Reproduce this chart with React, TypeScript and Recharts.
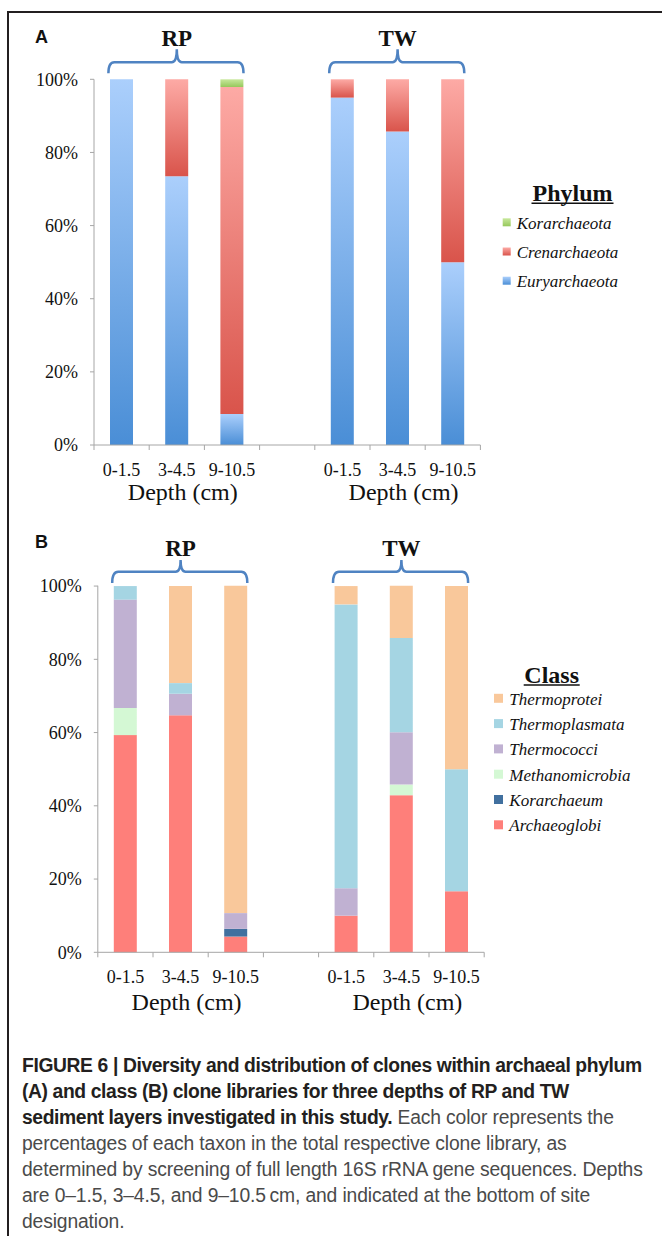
import { BarChart, Bar, XAxis, YAxis, Legend } from 'recharts'

const SERIF = '"Liberation Serif", "Times New Roman", Times, serif'
const SANS = '"Liberation Sans", Arial, Helvetica, sans-serif'
const AXIS = '#a6a6a6'
const BRACE = '#4f83c2'

// x categories: three depths per site, with an empty gap between sites
const depthLabels = ['0-1.5', '3-4.5', '9-10.5', '', '0-1.5', '3-4.5', '9-10.5']
const sites = ['RP', 'TW']
const percentTicks = [0, 20, 40, 60, 80, 100]

// A: phylum (% of clones)
const euryarchaeota = [100, 73.5, 8.5, null, 95, 85.7, 50]
const crenarchaeota = [0, 26.5, 89.4, null, 5, 14.3, 50]
const korarchaeota = [0, 0, 2.1, null, 0, 0, 0]

// B: class (% of clones)
const archaeoglobi = [59.3, 64.7, 4.3, null, 10, 42.9, 16.7]
const korarchaeum = [0, 0, 2.1, null, 0, 0, 0]
const methanomicrobia = [7.4, 0, 0, null, 0, 2.9, 0]
const thermococci = [29.6, 5.9, 4.3, null, 7.5, 14.3, 0]
const thermoplasmata = [3.7, 2.9, 0, null, 77.5, 25.7, 33.3]
const thermoprotei = [0, 26.5, 89.4, null, 5, 14.3, 50]

type Series = { name: string; values: (number | null)[]; top: string; bottom: string }

// stacking order bottom -> top
const phylumSeries: Series[] = [
  { name: 'Euryarchaeota', values: euryarchaeota, top: '#abcffc', bottom: '#4a8ed6' },
  { name: 'Crenarchaeota', values: crenarchaeota, top: '#fdaaa5', bottom: '#d9544b' },
  { name: 'Korarchaeota', values: korarchaeota, top: '#c8e89c', bottom: '#96c85c' },
]

const classSeries: Series[] = [
  { name: 'Archaeoglobi', values: archaeoglobi, top: '#fe7f7a', bottom: '#fe7f7a' },
  { name: 'Korarchaeum', values: korarchaeum, top: '#41709f', bottom: '#41709f' },
  { name: 'Methanomicrobia', values: methanomicrobia, top: '#d4f8d4', bottom: '#d4f8d4' },
  { name: 'Thermococci', values: thermococci, top: '#c0b1d2', bottom: '#c0b1d2' },
  { name: 'Thermoplasmata', values: thermoplasmata, top: '#a5d5e3', bottom: '#a5d5e3' },
  { name: 'Thermoprotei', values: thermoprotei, top: '#f9c89b', bottom: '#f9c89b' },
]

const W = 662
const H = 520
const PLOT_W = 386.4
const BAR = 23
const YAXIS_W = 60
const XAXIS_H = 30

function rowsOf(series: Series[]) {
  return depthLabels.map((_, i) => {
    const row: Record<string, number | null> = { idx: i }
    series.forEach((s) => {
      row[s.name] = s.values[i]
    })
    return row
  })
}

function DepthTick(props: any) {
  const { x, y, payload, band, dy, count } = props
  const i = payload.value as number
  return (
    <g>
      <line x1={x - band / 2} x2={x - band / 2} y1={y} y2={y + 5} stroke={AXIS} />
      {i === count - 1 && <line x1={x + band / 2} x2={x + band / 2} y1={y} y2={y + 5} stroke={AXIS} />}
      <text x={x} y={y + dy} textAnchor="middle" dominantBaseline="central" fontFamily={SERIF} fontSize={18} fill="#111">
        {depthLabels[i]}
      </text>
    </g>
  )
}

function bracePath(x1: number, x2: number, peak: number, yH: number, yEnd: number, yTop: number) {
  return [
    `M ${x1} ${yEnd}`,
    `Q ${x1} ${yH} ${x1 + 6} ${yH}`,
    `L ${peak - 5} ${yH}`,
    `Q ${peak} ${yH} ${peak} ${yTop}`,
    `Q ${peak} ${yH} ${peak + 5} ${yH}`,
    `L ${x2 - 6} ${yH}`,
    `Q ${x2} ${yH} ${x2} ${yEnd}`,
  ].join(' ')
}

interface PanelProps {
  letter: string
  series: Series[]
  top: number
  plotLeft: number
  plotTop: number
  plotBottom: number
  tickDy: number
  depthDy: number
  braceY: number
  braceEnd: number
  bracePeak: number
  siteY: number
  letterY: number
  title: string
  legendLeft: number
  legendTop: number
  titleX: number
  titleY: number
  titleW: number
  swatchX: number
  swatch: number
  itemY: number
  itemStep: number
  textX: number
}

function Panel(p: PanelProps) {
  const band = PLOT_W / depthLabels.length
  const center = (i: number) => p.plotLeft + band * (i + 0.5)
  const gid = (s: Series) => `grad-${p.letter}-${s.name}`
  const legendItems = [...p.series].reverse()

  return (
    <div style={{ position: 'absolute', left: 0, top: p.top, width: W, height: H }}>
      <BarChart
        width={W}
        height={H}
        data={rowsOf(p.series)}
        barSize={BAR}
        margin={{
          top: p.plotTop,
          bottom: H - p.plotBottom - XAXIS_H,
          left: p.plotLeft - YAXIS_W,
          right: W - p.plotLeft - PLOT_W,
        }}
      >
        <defs>
          {p.series.map((s) => (
            <linearGradient key={s.name} id={gid(s)} x1="0" y1="0" x2="0" y2="1">
              <stop offset="0" stopColor={s.top} />
              <stop offset="1" stopColor={s.bottom} />
            </linearGradient>
          ))}
        </defs>
        <XAxis
          dataKey="idx"
          type="category"
          height={XAXIS_H}
          interval={0}
          tickLine={false}
          tickSize={0}
          tickMargin={0}
          axisLine={{ stroke: AXIS }}
          tick={<DepthTick band={band} dy={p.tickDy} count={depthLabels.length} />}
        />
        <YAxis
          type="number"
          domain={[0, 100]}
          ticks={percentTicks}
          width={YAXIS_W}
          tickFormatter={(v: number) => `${v}%`}
          tickSize={4}
          tickMargin={12}
          axisLine={{ stroke: AXIS }}
          tickLine={{ stroke: AXIS }}
          tick={{ fontFamily: SERIF, fontSize: 18, fill: '#111' }}
        />
        {p.series.map((s) => (
          <Bar key={s.name} dataKey={s.name} name={s.name} stackId="a" fill={`url(#${gid(s)})`} isAnimationActive={false} />
        ))}
        <Legend
          layout="vertical"
          align="center"
          verticalAlign="middle"
          wrapperStyle={{ left: p.legendLeft, top: p.legendTop, width: 170 }}
          content={() => (
            <svg width={170} height={190} style={{ display: 'block', overflow: 'visible' }}>
              <text x={p.titleX} y={p.titleY} textAnchor="middle" dominantBaseline="central" fontFamily={SERIF} fontWeight="bold" fontSize={24} fill="#111">
                {p.title}
              </text>
              <line x1={p.titleX - p.titleW / 2} x2={p.titleX + p.titleW / 2} y1={p.titleY + 10} y2={p.titleY + 10} stroke="#111" strokeWidth={1.5} />
              {legendItems.map((s, i) => (
                <g key={s.name}>
                  <rect x={p.swatchX} y={p.itemY + i * p.itemStep - p.swatch / 2 - 1} width={p.swatch} height={p.swatch} fill={`url(#${gid(s)})`} />
                  <text x={p.textX} y={p.itemY + i * p.itemStep} dominantBaseline="central" fontFamily={SERIF} fontStyle="italic" fontSize={17} fill="#111">
                    {s.name}
                  </text>
                </g>
              ))}
            </svg>
          )}
        />
      </BarChart>

      <svg width={W} height={H} style={{ position: 'absolute', left: 0, top: 0, pointerEvents: 'none' }}>
        <text x={35} y={p.letterY} dominantBaseline="central" fontFamily={SANS} fontWeight="bold" fontSize={18} fill="#111">
          {p.letter}
        </text>
        {sites.map((site, g) => {
          const first = g * 4
          const x1 = center(first) - BAR / 2 - 1.7
          const x2 = center(first + 2) + BAR / 2
          const mid = center(first + 1)
          return (
            <g key={site}>
              <text x={mid} y={p.siteY} textAnchor="middle" dominantBaseline="central" fontFamily={SERIF} fontWeight="bold" fontSize={23} fill="#111">
                {site}
              </text>
              <path d={bracePath(x1, x2, mid, p.braceY, p.braceEnd, p.bracePeak)} fill="none" stroke={BRACE} strokeWidth={2.5} />
              <text x={mid + 6} y={p.plotBottom + p.depthDy} textAnchor="middle" dominantBaseline="central" fontFamily={SERIF} fontSize={24} fill="#111">
                Depth (cm)
              </text>
            </g>
          )
        })}
      </svg>
    </div>
  )
}

const captionLines: { bold: string; rest: string }[] = [
  { bold: 'FIGURE 6 | Diversity and distribution of clones within archaeal phylum', rest: '' },
  { bold: '(A) and class (B) clone libraries for three depths of RP and TW', rest: '' },
  { bold: 'sediment layers investigated in this study.', rest: ' Each color represents the' },
  { bold: '', rest: 'percentages of each taxon in the total respective clone library, as' },
  { bold: '', rest: 'determined by screening of full length 16S rRNA gene sequences. Depths' },
  { bold: '', rest: 'are 0\u20131.5, 3\u20134.5, and 9\u201310.5\u2009cm, and indicated at the bottom of site' },
  { bold: '', rest: 'designation.' },
]

export default function App() {
  return (
    <div style={{ position: 'fixed', left: 0, top: 0, width: W, height: 1236, background: '#fff', overflow: 'hidden' }}>
      <div
        style={{
          position: 'absolute',
          left: 7,
          top: 11,
          width: 700,
          height: 1300,
          borderLeft: '2px solid #231f20',
          borderTop: '2px solid #231f20',
        }}
      />
      <Panel
        letter="A"
        series={phylumSeries}
        top={0}
        plotLeft={94}
        plotTop={79.3}
        plotBottom={445}
        tickDy={25}
        depthDy={46.7}
        braceY={62.3}
        braceEnd={73.3}
        bracePeak={49.3}
        siteY={38.3}
        letterY={36.7}
        title="Phylum"
        legendLeft={495}
        legendTop={170}
        titleX={77.5}
        titleY={23.3}
        titleW={82}
        swatchX={7.7}
        swatch={8}
        itemY={53.3}
        itemStep={29.2}
        textX={21.7}
      />
      <Panel
        letter="B"
        series={classSeries}
        top={520}
        plotLeft={97.8}
        plotTop={65.7}
        plotBottom={432.3}
        tickDy={24.4}
        depthDy={49.4}
        braceY={51.7}
        braceEnd={63}
        bracePeak={40}
        siteY={28}
        letterY={21.7}
        title="Class"
        legendLeft={487}
        legendTop={140}
        titleX={64.7}
        titleY={15}
        titleW={56}
        swatchX={7}
        swatch={9}
        itemY={39.3}
        itemStep={25.3}
        textX={22.3}
      />
      <div
        style={{
          position: 'absolute',
          left: 22,
          top: 1052,
          fontFamily: SANS,
          fontSize: 20,
          lineHeight: '26px',
          transform: 'scaleX(0.965)',
          transformOrigin: '0 0',
        }}
      >
        {captionLines.map((l, i) => (
          <div key={i} style={{ whiteSpace: 'nowrap' }}>
            {l.bold && <span style={{ fontWeight: 'bold', color: '#231f20', letterSpacing: '-0.4px' }}>{l.bold}</span>}
            {l.rest && <span style={{ color: '#4a4a4a', letterSpacing: '-0.15px' }}>{l.rest}</span>}
          </div>
        ))}
      </div>
    </div>
  )
}
